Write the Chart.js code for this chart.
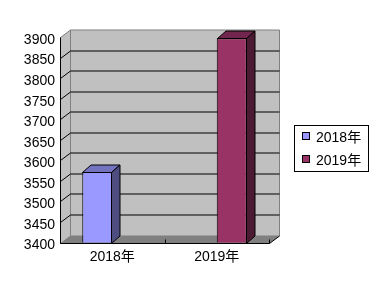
<!DOCTYPE html>
<html>
<head>
<meta charset="utf-8">
<script src="https://cdn.jsdelivr.net/npm/chart.js@4/dist/chart.umd.min.js"></script>
<style>
  html, body { margin: 0; padding: 0; background: #ffffff; }
  canvas { display: block; }
</style>
</head>
<body>
<canvas id="c" width="382" height="297"></canvas>
<script>
// ---- data ----
const categories = ['2018年', '2019年'];
const seriesNames = ['2018年', '2019年'];
const values2018 = [3572, null];
const values2019 = [null, 3897];
const yTickValues = [3400, 3450, 3500, 3550, 3600, 3650, 3700, 3750, 3800, 3850, 3900];

// ---- styles ----
const FONT = "'Liberation Sans', 'Noto Sans CJK SC', sans-serif";
const frontColors = ['#9999ff', '#993366'];
const topColors = ['#7373bf', '#73264d'];
const sideColors = ['#4d4d80', '#4d1a33'];
const WALL = { dx: 10, dy: -7.5 };
const BAR = { dx: 8.5, dy: -7.5 };

function poly(ctx, pts, fill, stroke) {
  ctx.beginPath();
  ctx.moveTo(pts[0][0], pts[0][1]);
  for (let i = 1; i < pts.length; i++) ctx.lineTo(pts[i][0], pts[i][1]);
  ctx.closePath();
  if (fill) { ctx.fillStyle = fill; ctx.fill(); }
  if (stroke) { ctx.strokeStyle = stroke; ctx.lineWidth = 1; ctx.stroke(); }
}
function line(ctx, x1, y1, x2, y2, color) {
  ctx.beginPath();
  ctx.moveTo(x1, y1);
  ctx.lineTo(x2, y2);
  ctx.strokeStyle = color;
  ctx.lineWidth = 1;
  ctx.stroke();
}

const depth3d = {
  id: 'depth3d',
  beforeDatasetsDraw(chart) {
    const { ctx, chartArea: a, scales } = chart;
    const y = scales.y;
    const dx = WALL.dx, dy = WALL.dy;
    const L = a.left + 0.5, R = Math.round(a.right) + 0.5;
    const T = Math.round(a.top) + 0.5, B = Math.round(a.bottom) + 0.5;
    ctx.save();
    // back wall
    poly(ctx, [[L + dx, T + dy], [R + dx, T + dy], [R + dx, B + dy], [L + dx, B + dy]], '#c0c0c0', '#808080');
    // left wall
    poly(ctx, [[L, T], [L + dx, T + dy], [L + dx, B + dy], [L, B]], '#c0c0c0', '#808080');
    // floor
    poly(ctx, [[L, B], [L + dx, B + dy], [R + dx, B + dy], [R, B]], '#808080', null);
    // gridlines
    y.ticks.forEach(t => {
      if (t.value === yTickValues[0] || t.value === yTickValues[yTickValues.length - 1]) return;
      const py = Math.round(y.getPixelForValue(t.value)) + 0.5;
      line(ctx, L, py, L + dx, py + dy, '#000');
      line(ctx, L + dx, py + dy, R + dx, py + dy, '#000');
    });
    // front axis line
    line(ctx, L, T, L, B, '#000');
    // floor front edge and right edge
    line(ctx, L, B, R, B, '#000');
    line(ctx, R, B, R + dx, B + dy, '#000');
    // category ticks
    for (let i = 0; i <= categories.length; i++) {
      const px = Math.round(a.left + (a.right - a.left) * i / categories.length) + 0.5;
      line(ctx, px, B, px, B - 4, '#000');
    }
    ctx.restore();
  },
  afterDatasetsDraw(chart) {
    const { ctx, chartArea: a } = chart;
    ctx.save();
    chart.data.datasets.forEach((ds, di) => {
      const meta = chart.getDatasetMeta(di);
      meta.data.forEach((el, i) => {
        if (ds.data[i] == null) return;
        const p = el.getProps(['x', 'y', 'width'], true);
        const l = Math.round(p.x - p.width / 2) + 0.5;
        const r = Math.round(p.x + p.width / 2) - 0.5;
        const t = Math.round(p.y) + 0.5;
        const b = Math.round(a.bottom) + 0.5;
        const dx = BAR.dx, dy = BAR.dy;
        poly(ctx, [[l, t], [l + dx, t + dy], [r + dx, t + dy], [r, t]], topColors[di], '#000');
        poly(ctx, [[r, t], [r + dx, t + dy], [r + dx, b + dy], [r, b]], sideColors[di], '#000');
      });
    });
    ctx.restore();
  },
  afterDraw(chart) {
    const { ctx } = chart;
    ctx.save();
    // legend box
    const bx = 294.5, by = 125.5, bw = 74, bh = 46;
    ctx.fillStyle = '#fff';
    ctx.fillRect(bx, by, bw, bh);
    ctx.strokeStyle = '#000';
    ctx.lineWidth = 1;
    ctx.strokeRect(bx, by, bw, bh);
    ctx.font = '14px ' + FONT;
    ctx.textBaseline = 'middle';
    ctx.textAlign = 'left';
    chart.data.datasets.forEach((ds, di) => {
      const cy = 137 + di * 23;
      ctx.fillStyle = frontColors[di];
      ctx.fillRect(302.5, cy - 4.5, 7, 7);
      ctx.strokeStyle = '#000';
      ctx.strokeRect(302.5, cy - 4.5, 7, 7);
      ctx.fillStyle = '#000';
      ctx.fillText(ds.label, 316, cy + 1);
    });
    ctx.restore();
  }
};

new Chart(document.getElementById('c'), {
  type: 'bar',
  data: {
    labels: categories,
    datasets: [
      { label: seriesNames[0], data: values2018, backgroundColor: frontColors[0], borderColor: '#000', borderWidth: 1, categoryPercentage: 0.574, barPercentage: 1.0 },
      { label: seriesNames[1], data: values2019, backgroundColor: frontColors[1], borderColor: '#000', borderWidth: 1, categoryPercentage: 0.574, barPercentage: 1.0 }
    ]
  },
  options: {
    responsive: false,
    animation: false,
    devicePixelRatio: 1,
    layout: { padding: { top: 37, right: 113, bottom: 0, left: 0 } },
    plugins: { legend: { display: false }, tooltip: { enabled: false } },
    scales: {
      x: {
        grid: { display: false, drawTicks: false },
        border: { display: false },
        ticks: { color: '#000', font: { family: FONT, size: 14 }, padding: 6, maxRotation: 0 },
        afterFit(s) { s.height = 297 - 242.5; }
      },
      y: {
        min: yTickValues[0],
        max: yTickValues[yTickValues.length - 1],
        grid: { display: false, drawTicks: false },
        border: { display: false },
        afterBuildTicks(s) { s.ticks = yTickValues.map(v => ({ value: v })); },
        ticks: { color: '#000', font: { family: FONT, size: 14 }, padding: 5, labelOffset: 3, callback: v => String(v) },
        afterFit(s) { s.width = 60; }
      }
    }
  },
  plugins: [depth3d]
});
</script>
</body>
</html>
